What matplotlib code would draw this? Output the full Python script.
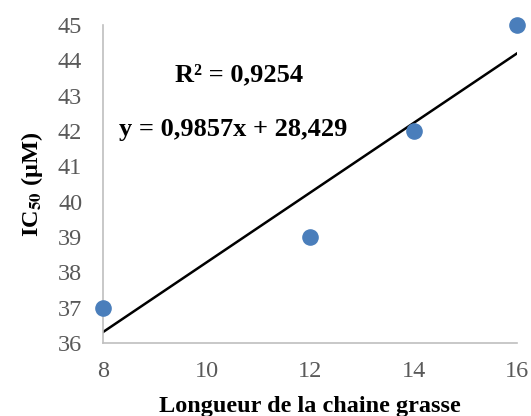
import matplotlib.pyplot as plt
import numpy as np

plt.rcParams['font.family'] = 'Liberation Serif'
plt.rcParams['mathtext.fontset'] = 'stix'

chain_length = [8, 12, 14, 16]
ic50 = [37, 39, 42, 45]
slope = 0.9857
intercept = 28.429
r2_label = 'R² = 0,9254'
eq_label = 'y = 0,9857x + 28,429'

fig = plt.figure(figsize=(5.31, 4.16), dpi=100)
ax = fig.add_axes([0.194, 0.175, 0.780, 0.765])

xs = np.array([min(chain_length), max(chain_length)])
ax.plot(xs, slope * xs + intercept, color='black', lw=1.8, zorder=2)
ax.scatter(chain_length, ic50, s=120, color='#4a7ebb', zorder=3, clip_on=False)

ax.set_xlim(8, 16)
ax.set_ylim(36, 45)
ax.set_xticks(np.arange(8, 17, 2))
ax.set_yticks(np.arange(36, 46, 1))
ax.tick_params(length=0, labelsize=17.5, labelcolor='#595959')
ax.tick_params(axis='y', pad=15)
ax.tick_params(axis='x', pad=13)

for s in ['top', 'right']:
    ax.spines[s].set_visible(False)
for s in ['left', 'bottom']:
    ax.spines[s].set_color('#bfbfbf')
    ax.spines[s].set_linewidth(1.2)

ax.text(10.63, 43.58, r2_label, ha='center', va='center', fontsize=19, fontweight='bold')
ax.text(10.51, 42.03, eq_label, ha='center', va='center', fontsize=19, fontweight='bold')

ax.set_xlabel('Longueur de la chaine grasse', fontsize=17.5, fontweight='bold', labelpad=10)
ax.set_ylabel(r'IC$_{\mathbf{50}}$ (µM)', fontsize=17.5, fontweight='bold', labelpad=9)

fig.savefig('out.png', dpi=100)
